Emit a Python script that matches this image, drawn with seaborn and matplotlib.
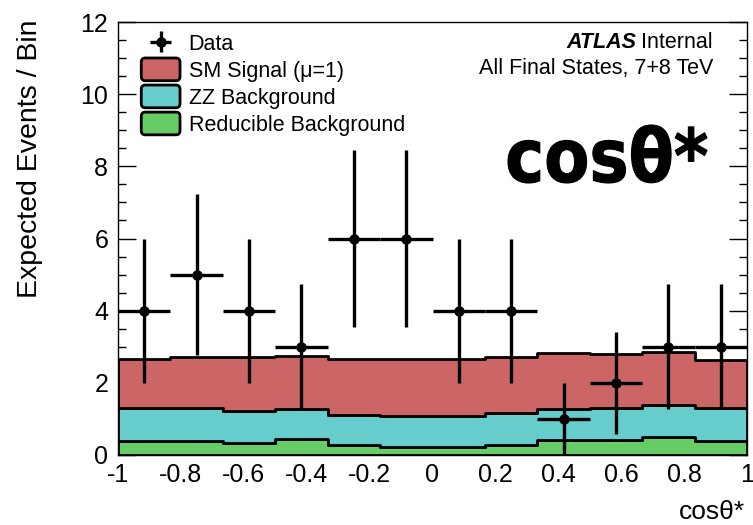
import numpy as np
import pandas as pd
import matplotlib
matplotlib.use("Agg")
import matplotlib.pyplot as plt
import seaborn as sns
from matplotlib.patches import Patch, PathPatch, FancyBboxPatch
from matplotlib.legend_handler import HandlerPatch
from matplotlib.textpath import TextPath
from matplotlib.font_manager import FontProperties
from matplotlib.transforms import Affine2D

# ---- binning and contents ------------------------------------------------
bin_edges = np.linspace(-1.0, 1.0, 13)
x_tick_values = [-1, -0.8, -0.6, -0.4, -0.2, 0, 0.2, 0.4, 0.6, 0.8, 1]
x_tick_labels = ["-1", "-0.8", "-0.6", "-0.4", "-0.2", "0", "0.2", "0.4", "0.6", "0.8", "1"]
y_tick_values = [0, 2, 4, 6, 8, 10, 12]

data_counts = [4, 5, 4, 3, 6, 6, 4, 4, 1, 2, 3, 3]
data_errors = [2.0, 2.24, 2.0, 1.73, 2.45, 2.45, 2.0, 2.0, 1.0, 1.41, 1.73, 1.73]

reducible_bkg = [0.38, 0.40, 0.33, 0.43, 0.28, 0.23, 0.23, 0.29, 0.41, 0.41, 0.50, 0.40]
zz_bkg = [0.92, 0.90, 0.90, 0.84, 0.83, 0.85, 0.85, 0.87, 0.86, 0.89, 0.89, 0.90]
sm_signal = [1.36, 1.41, 1.48, 1.48, 1.55, 1.58, 1.58, 1.55, 1.55, 1.49, 1.47, 1.32]

component_names = ["SM Signal (\u03bc=1)", "ZZ Background", "Reducible Background"]
component_colors = ["#cc6666", "#66cccc", "#66cc66"]

bin_centers = 0.5 * (bin_edges[:-1] + bin_edges[1:])
half_width = 0.5 * np.diff(bin_edges)

frames = []
for name, vals in zip(component_names, [sm_signal, zz_bkg, reducible_bkg]):
    frames.append(pd.DataFrame({"x": bin_centers, "w": vals, "component": name}))
mc = pd.concat(frames, ignore_index=True)

# ---- style ----------------------------------------------------------------
sns.set_style("ticks")
plt.rcParams["font.family"] = ["Liberation Sans", "DejaVu Sans"]
plt.rcParams["axes.unicode_minus"] = False
for key in ["text.color", "axes.labelcolor", "xtick.color", "ytick.color",
            "xtick.labelcolor", "ytick.labelcolor", "axes.edgecolor"]:
    plt.rcParams[key] = "black"

W, H = 753, 525
fig = plt.figure(figsize=(W / 100, H / 100), dpi=100)
ax = fig.add_axes([118 / W, 1 - 455 / H, (747 - 118) / W, (455 - 22) / H])

sns.histplot(
    data=mc, x="x", weights="w", hue="component", hue_order=component_names,
    bins=list(bin_edges), multiple="stack", element="step", fill=True,
    palette=component_colors, alpha=1.0, edgecolor="black", linewidth=2.0,
    legend=False, ax=ax,
)

data_handle = ax.errorbar(
    bin_centers, data_counts, yerr=data_errors, xerr=half_width,
    fmt="o", color="black", ms=6.5, elinewidth=2.4, capsize=0, zorder=6,
)

ax.set_xlim(-1, 1)
ax.set_ylim(0, 12)
ax.set_xlabel("")
ax.set_ylabel("")
ax.set_xticks(x_tick_values)
ax.set_xticklabels(x_tick_labels)
ax.set_yticks(y_tick_values)
ax.set_yticks(np.arange(0, 12.01, 0.5), minor=True)
ax.tick_params(axis="x", which="both", length=0, labelsize=18, pad=6)
ax.tick_params(axis="y", which="major", direction="in", left=True, right=True,
               length=13, width=1, labelsize=18, pad=7)
ax.tick_params(axis="y", which="minor", direction="in", left=True, right=True,
               length=6, width=1)
for sp in ax.spines.values():
    sp.set_visible(True)
    sp.set_linewidth(1.0)
    sp.set_color("black")
    sp.set_zorder(10)


# rounded legend boxes
class RoundBox(HandlerPatch):
    def create_artists(self, legend, orig_handle, xdescent, ydescent,
                       width, height, fontsize, trans):
        p = FancyBboxPatch((-xdescent, -ydescent - 2), width, height + 4,
                           boxstyle="round,pad=0,rounding_size=3",
                           facecolor=orig_handle.get_facecolor(),
                           edgecolor="black", linewidth=2.0, transform=trans)
        return [p]


patch_handles = [Patch(facecolor=c, edgecolor="black") for c in component_colors]
leg = ax.legend(
    [data_handle] + patch_handles, ["Data"] + component_names,
    loc="upper left", bbox_to_anchor=(0.037, 0.973), frameon=False,
    fontsize=15.5, handlelength=1.8, handleheight=0.85, handletextpad=0.4,
    labelspacing=0.28, borderpad=0, borderaxespad=0,
    handler_map={Patch: RoundBox()},
)

# experiment labels
fig.canvas.draw()
renderer = fig.canvas.get_renderer()
t_int = fig.text(713 / W, 1 - 48 / H, "Internal", ha="right", va="baseline", fontsize=15.5)
bb = t_int.get_window_extent(renderer)
fig.text((bb.x0 - 5) / W, 1 - 48 / H, "ATLAS", ha="right", va="baseline",
         fontsize=15.5, fontweight="bold", fontstyle="italic")
fig.text(713 / W, 1 - 74 / H, "All Final States, 7+8 TeV", ha="right",
         va="baseline", fontsize=15.5)

# axis titles
fig.text(30 / W, 1 - 19 / H, "Expected Events / Bin", rotation=90,
         ha="center", va="top", fontsize=20.5)
fig.text(745 / W, 1 - 519 / H, "cos\u03b8*", ha="right", va="baseline", fontsize=19)

# large variable tag
tp = TextPath((0, 0), "cos\u03b8*", size=1,
              prop=FontProperties(family="DejaVu Sans", weight="bold"))
ext = tp.get_extents()
fx0, fx1 = 508 / W, 707 / W
fy0, fy1 = 1 - 183 / H, 1 - 125 / H
tr = (Affine2D().translate(-ext.x0, -ext.y0)
      .scale((fx1 - fx0) / ext.width, (fy1 - fy0) / ext.height)
      .translate(fx0, fy0) + fig.transFigure)
fig.add_artist(PathPatch(tp, transform=tr, facecolor="black", edgecolor="black",
                         linewidth=0.8, joinstyle="round"))

fig.savefig("out.png", dpi=100)
